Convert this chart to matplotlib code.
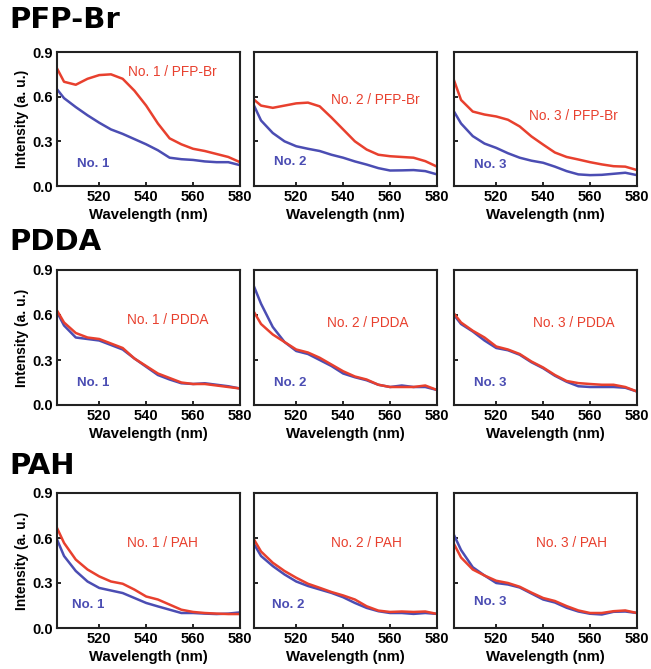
import matplotlib
matplotlib.use("Agg")
import matplotlib.pyplot as plt

plt.rcParams['font.family'] = ['Liberation Sans', 'DejaVu Sans']

WL = [502, 505, 510, 515, 520, 525, 530, 535, 540, 545, 550, 555, 560, 565, 570, 575, 580]

# Row titles
groups = ["PFP-Br", "PDDA", "PAH"]

# red = sample / polymer, blue = sample alone
pfp_red_1 = [0.79, 0.70, 0.68, 0.72, 0.745, 0.75, 0.72, 0.64, 0.54, 0.42, 0.32, 0.28, 0.25, 0.235, 0.215, 0.195, 0.16]
pfp_blue_1 = [0.65, 0.59, 0.53, 0.475, 0.425, 0.38, 0.35, 0.315, 0.28, 0.24, 0.19, 0.18, 0.175, 0.165, 0.16, 0.16, 0.14]
pfp_red_2 = [0.58, 0.54, 0.525, 0.54, 0.555, 0.56, 0.535, 0.46, 0.38, 0.30, 0.245, 0.21, 0.20, 0.195, 0.19, 0.167, 0.13]
pfp_blue_2 = [0.54, 0.44, 0.356, 0.30, 0.267, 0.25, 0.235, 0.21, 0.19, 0.165, 0.144, 0.12, 0.104, 0.105, 0.107, 0.10, 0.078]
pfp_red_3 = [0.71, 0.578, 0.50, 0.48, 0.467, 0.445, 0.40, 0.333, 0.278, 0.225, 0.195, 0.178, 0.16, 0.145, 0.133, 0.13, 0.107]
pfp_blue_3 = [0.50, 0.42, 0.335, 0.285, 0.256, 0.22, 0.19, 0.17, 0.156, 0.13, 0.10, 0.078, 0.073, 0.075, 0.082, 0.089, 0.073]

pdda_red_1 = [0.63, 0.55, 0.48, 0.45, 0.44, 0.41, 0.38, 0.31, 0.26, 0.21, 0.18, 0.15, 0.14, 0.14, 0.13, 0.12, 0.11]
pdda_blue_1 = [0.62, 0.53, 0.45, 0.44, 0.43, 0.40, 0.37, 0.31, 0.255, 0.20, 0.17, 0.145, 0.14, 0.145, 0.135, 0.125, 0.11]
pdda_red_2 = [0.62, 0.54, 0.47, 0.42, 0.37, 0.35, 0.315, 0.27, 0.225, 0.19, 0.17, 0.135, 0.12, 0.12, 0.12, 0.13, 0.10]
pdda_blue_2 = [0.79, 0.675, 0.52, 0.42, 0.36, 0.34, 0.30, 0.26, 0.21, 0.185, 0.165, 0.135, 0.12, 0.13, 0.12, 0.12, 0.10]
pdda_red_3 = [0.61, 0.55, 0.495, 0.45, 0.39, 0.37, 0.34, 0.29, 0.25, 0.20, 0.16, 0.146, 0.14, 0.135, 0.135, 0.12, 0.09]
pdda_blue_3 = [0.60, 0.54, 0.49, 0.43, 0.38, 0.365, 0.335, 0.285, 0.245, 0.195, 0.155, 0.125, 0.12, 0.12, 0.12, 0.115, 0.09]

pah_red_1 = [0.667, 0.567, 0.456, 0.39, 0.344, 0.31, 0.295, 0.256, 0.21, 0.19, 0.156, 0.122, 0.107, 0.10, 0.096, 0.093, 0.093]
pah_blue_1 = [0.59, 0.48, 0.38, 0.31, 0.267, 0.25, 0.233, 0.20, 0.167, 0.144, 0.122, 0.10, 0.10, 0.096, 0.093, 0.096, 0.104]
pah_red_2 = [0.59, 0.51, 0.435, 0.38, 0.335, 0.295, 0.268, 0.24, 0.217, 0.19, 0.145, 0.116, 0.107, 0.11, 0.107, 0.11, 0.094]
pah_blue_2 = [0.56, 0.48, 0.413, 0.357, 0.31, 0.28, 0.257, 0.234, 0.205, 0.167, 0.134, 0.112, 0.10, 0.10, 0.094, 0.10, 0.094]
pah_red_3 = [0.56, 0.47, 0.39, 0.35, 0.315, 0.30, 0.275, 0.236, 0.20, 0.18, 0.146, 0.117, 0.10, 0.10, 0.112, 0.117, 0.10]
pah_blue_3 = [0.62, 0.52, 0.405, 0.35, 0.30, 0.29, 0.27, 0.23, 0.19, 0.17, 0.135, 0.11, 0.095, 0.09, 0.108, 0.11, 0.10]

red_series = [[pfp_red_1, pfp_red_2, pfp_red_3],
              [pdda_red_1, pdda_red_2, pdda_red_3],
              [pah_red_1, pah_red_2, pah_red_3]]
blue_series = [[pfp_blue_1, pfp_blue_2, pfp_blue_3],
               [pdda_blue_1, pdda_blue_2, pdda_blue_3],
               [pah_blue_1, pah_blue_2, pah_blue_3]]

x_ticks = [520, 540, 560, 580]
y_ticks = [0.0, 0.3, 0.6, 0.9]
y_ticklabels = ["0.0", "0.3", "0.6", "0.9"]

# label positions (axes fraction)
red_label_pos = [[(0.39, 0.85), (0.42, 0.645), (0.41, 0.52)],
                 [(0.38, 0.63), (0.40, 0.61), (0.43, 0.61)],
                 [(0.38, 0.63), (0.42, 0.63), (0.45, 0.63)]]
blue_label_pos = [[(0.11, 0.165), (0.11, 0.18), (0.11, 0.16)],
                  [(0.11, 0.16), (0.11, 0.16), (0.11, 0.16)],
                  [(0.08, 0.17), (0.10, 0.17), (0.11, 0.19)]]

RED = "#e8402e"
BLUE = "#4b4db3"
W, H = 651, 669
fig = plt.figure(figsize=(W / 100, H / 100), dpi=100)

col_left = [57, 254, 454]
col_w = 183
rows_tb = [(52, 186), (270, 405), (493, 628)]
title_y = [20, 242, 466]

for r in range(3):
    top, bot = rows_tb[r]
    fig.text(9 / W, 1 - title_y[r] / H, groups[r], fontsize=21, fontweight='heavy',
             ha='left', va='center', family=['DejaVu Sans'])
    for c in range(3):
        ax = fig.add_axes([col_left[c] / W, 1 - bot / H, col_w / W, (bot - top) / H])
        ax.plot(WL, blue_series[r][c], color=BLUE, lw=1.8)
        ax.plot(WL, red_series[r][c], color=RED, lw=1.8)
        ax.set_xlim(502, 580)
        ax.set_ylim(0, 0.9)
        ax.set_xticks(x_ticks)
        ax.set_yticks(y_ticks)
        ax.tick_params(direction='in', length=3, width=1.2, labelsize=10.5, pad=3)
        for lab in ax.get_xticklabels():
            lab.set_fontweight('bold')
        if c == 0:
            ax.set_yticklabels(y_ticklabels)
            for lab in ax.get_yticklabels():
                lab.set_fontweight('bold')
            ax.set_ylabel("Intensity (a. u.)", fontsize=10, fontweight='bold', labelpad=2)
        else:
            ax.set_yticklabels([])
        ax.set_xlabel("Wavelength (nm)", fontsize=10.7, fontweight='bold', labelpad=3)
        for s in ax.spines.values():
            s.set_linewidth(1.5)
            s.set_color("#222222")
        polymer = groups[r]
        rx, ry = red_label_pos[r][c]
        ax.text(rx, ry, f"No. {c + 1} / {polymer}", transform=ax.transAxes, color=RED,
                fontsize=9.8, ha='left', va='center')
        bx, by = blue_label_pos[r][c]
        ax.text(bx, by, f"No. {c + 1}", transform=ax.transAxes, color=BLUE,
                fontsize=9.5, ha='left', va='center', fontweight='bold')

fig.savefig("out.png", dpi=100)
